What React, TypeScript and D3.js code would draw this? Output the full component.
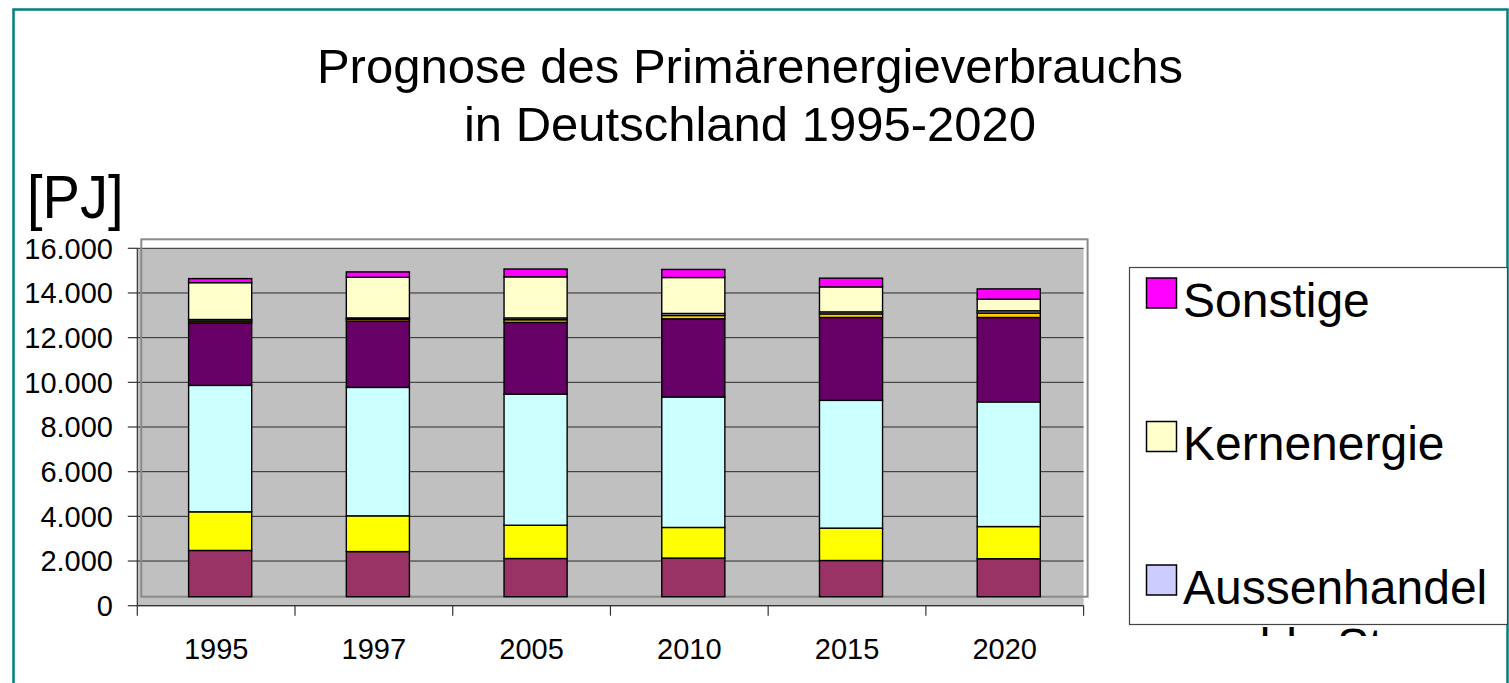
import React from "react";
import * as d3 from "d3";

const years = ["1995", "1997", "2005", "2010", "2015", "2020"];
const steinkohle = [2070, 2020, 1710, 1730, 1620, 1700];
const braunkohle = [1730, 1600, 1490, 1370, 1450, 1440];
const mineraloel = [5660, 5750, 5870, 5840, 5720, 5580];
const erdgas = [2800, 2970, 3210, 3500, 3710, 3780];
const wasserWind = [80, 80, 120, 150, 160, 200];
const aussenhandel = [70, 60, 80, 90, 90, 100];
const kernenergie = [1650, 1820, 1840, 1610, 1120, 520];
const sonstige = [180, 240, 350, 360, 390, 460];

const seriesKeys = ["steinkohle", "braunkohle", "mineraloel", "erdgas", "wasserWind", "aussenhandel", "kernenergie", "sonstige"];
const seriesValues = [steinkohle, braunkohle, mineraloel, erdgas, wasserWind, aussenhandel, kernenergie, sonstige];
const seriesLabels = [
  ["Steinkohle"],
  ["Braunkohle"],
  ["Mineralöl"],
  ["Erdgas"],
  ["Wasser- und", "Windkraft"],
  ["Aussenhandel", "saldo Strom"],
  ["Kernenergie"],
  ["Sonstige"],
];
const seriesColors = ["#993366", "#FFFF00", "#CCFFFF", "#660066", "#FFCC00", "#CCCCFF", "#FFFFCC", "#FF00FF"];

const yTicks = [0, 2000, 4000, 6000, 8000, 10000, 12000, 14000, 16000];
const titleLines = ["Prognose des Primärenergieverbrauchs", "in Deutschland 1995-2020"];
const unitLabel = "[PJ]";

const FONT = "'Liberation Sans', Arial, Helvetica, sans-serif";

export default function App() {
  const W = 1509;
  const H = 683;
  const x = d3.scaleBand<string>().domain(years).range([137.3, 1083.6]);
  const y = d3.scaleLinear().domain([0, 16000]).range([605.7, 248.3]);
  const depthX = 4;
  const depthY = 9;
  const barW = x.bandwidth() * 0.4;

  const rows = years.map((yr, i) => {
    const r: any = { year: yr };
    seriesKeys.forEach((k, j) => (r[k] = seriesValues[j][i]));
    return r;
  });
  const stacked = d3.stack<any>().keys(seriesKeys)(rows);
  const fmt = d3.formatLocale({ decimal: ",", thousands: ".", grouping: [3], currency: ["", "€"] }).format(",");

  const [x0, x1] = x.range();
  const [yBottom, yTop] = y.range();

  const legendOrder = seriesKeys.map((_, i) => i).reverse();
  const legendX = 1129.5;
  const legendY = 267.5;
  const legendW = 378;
  const legendH = 357;
  const firstBaseline = 316.5;
  const itemStep = 143.5;

  return (
    <svg width={W} height={H} style={{ position: "absolute", left: 0, top: 0, display: "block", background: "#fff" }} fontFamily={FONT}>
      <defs>
        <clipPath id="legclip">
          <rect x={legendX} y={legendY} width={legendW + 2} height={636 - legendY} />
        </clipPath>
      </defs>
      <rect x={13.5} y={9.5} width={1494} height={720} fill="none" stroke="#008080" strokeWidth={2.5} />

      {titleLines.map((t, i) => (
        <text key={i} x={750} y={83 + i * 58} fontSize={49} textAnchor="middle" fill="#000">
          {t}
        </text>
      ))}
      <text x={27} y={0} fontSize={56} fill="#000" transform={`translate(0,218) scale(1,1.1)`}>
        {unitLabel}
      </text>

      {/* plot area */}
      <rect x={x0} y={yTop} width={x1 - x0} height={yBottom - yTop} fill="#C0C0C0" />
      {yTicks.map((t) => (
        <line key={t} x1={x0} x2={x1} y1={y(t)} y2={y(t)} stroke="#2a2a2a" strokeWidth={1} />
      ))}
      <rect x={x0 + depthX} y={yTop - depthY} width={x1 - x0} height={yBottom - yTop} fill="none" stroke="#8a8a8a" strokeWidth={2} />

      {/* bars */}
      {stacked.map((layer, li) => (
        <g key={layer.key} fill={seriesColors[li]} stroke="#000" strokeWidth={1.4}>
          {layer.map((d, i) => {
            const xb = (x(years[i]) as number) + x.bandwidth() / 2 - barW / 2 + depthX;
            const yt = y(d[1]) - depthY;
            const yb = y(d[0]) - depthY;
            return <rect key={i} x={xb} y={yt} width={barW} height={Math.max(0, yb - yt)} />;
          })}
        </g>
      ))}

      {/* y axis */}
      <line x1={x0} x2={x0} y1={yTop} y2={yBottom} stroke="#333" strokeWidth={1.2} />
      {yTicks.map((t) => (
        <g key={t}>
          <line x1={x0 - 9.5} x2={x0} y1={y(t)} y2={y(t)} stroke="#333" strokeWidth={1.2} />
          <text x={113} y={y(t) + 10.3} fontSize={29} textAnchor="end" fill="#000">
            {fmt(t)}
          </text>
        </g>
      ))}

      {/* x axis */}
      <line x1={x0} x2={x1} y1={yBottom} y2={yBottom} stroke="#333" strokeWidth={1.2} />
      {years.map((yr) => (
        <line key={"t" + yr} x1={x(yr) as number} x2={x(yr) as number} y1={yBottom} y2={yBottom + 10} stroke="#333" strokeWidth={1.2} />
      ))}
      <line x1={x1} x2={x1} y1={yBottom} y2={yBottom + 10} stroke="#333" strokeWidth={1.2} />
      {years.map((yr) => (
        <text key={"l" + yr} x={(x(yr) as number) + x.bandwidth() / 2} y={659} fontSize={29} textAnchor="middle" fill="#000">
          {yr}
        </text>
      ))}

      {/* legend */}
      <rect x={legendX} y={legendY} width={legendW} height={legendH} fill="#fff" stroke="#444" strokeWidth={1.2} />
      <g clipPath="url(#legclip)">
        {legendOrder.map((si, k) => {
          const base = firstBaseline + k * itemStep;
          const lines = seriesLabels[si];
          return (
            <g key={seriesKeys[si]}>
              <rect x={1146.5} y={base - 38.5} width={30} height={30} fill={seriesColors[si]} stroke="#000" strokeWidth={1.5} />
              {lines.map((ln, j) => (
                <text key={j} x={j === 0 ? 1183 : 1337} y={base + j * 58} fontSize={48} textAnchor={j === 0 ? "start" : "middle"} fill="#000">
                  {ln}
                </text>
              ))}
            </g>
          );
        })}
      </g>
    </svg>
  );
}
